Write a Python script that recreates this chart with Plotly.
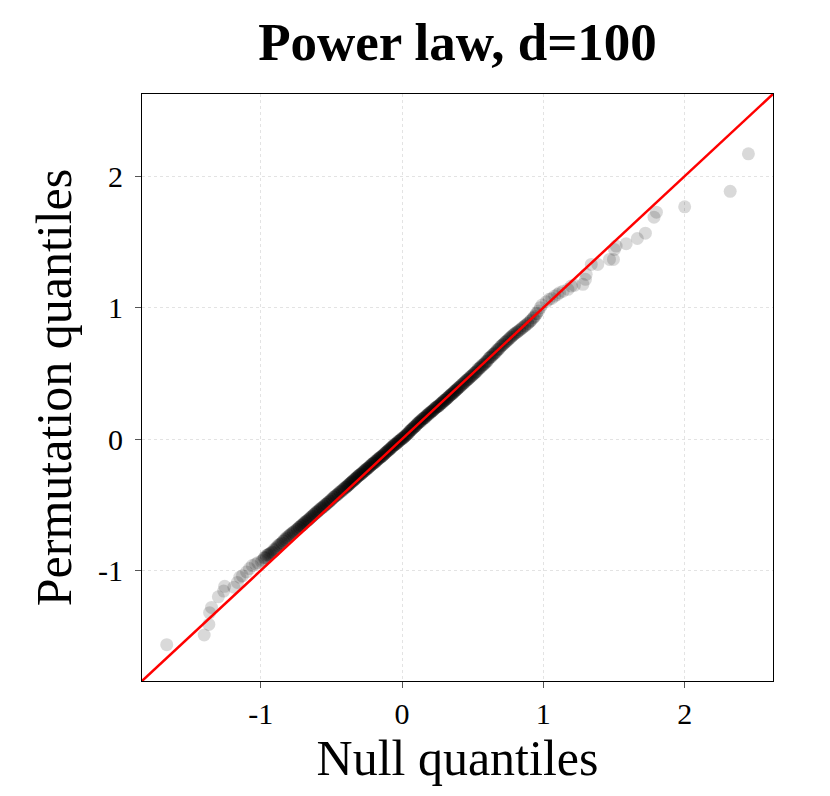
import plotly.graph_objects as go

# ---- data (null quantile, permutation quantile) ----
null_low = [-1.665, -1.40, -1.367, -1.362, -1.348, -1.30, -1.262, -1.255, -1.19, -1.165,
            -1.148, -1.13, -1.10, -1.08, -1.06, -1.037, -1.02]
perm_low = [-1.564, -1.49, -1.41, -1.32, -1.28, -1.20, -1.156, -1.12, -1.126, -1.09,
            -1.05, -1.04, -1.01, -0.985, -0.962, -0.95, -0.94]

null_a = [-0.995, -0.985, -0.972, -0.96, -0.95, -0.94, -0.928, -0.915, -0.905, -0.895,
          -0.884, -0.872, -0.86, -0.85, -0.84, -0.83, -0.82, -0.81, -0.80, -0.79,
          -0.78, -0.77, -0.76]
perm_a = [-0.93, -0.92, -0.90, -0.886, -0.88, -0.875, -0.866, -0.86, -0.85, -0.84,
          -0.822, -0.81, -0.80, -0.79, -0.775, -0.762, -0.752, -0.742, -0.734, -0.725,
          -0.716, -0.708, -0.70]

null_b = [-0.745, -0.739, -0.730, -0.725, -0.716, -0.711, -0.702, -0.697, -0.690, -0.681,
          -0.676, -0.667, -0.662, -0.653, -0.648, -0.639, -0.634, -0.625, -0.620, -0.611,
          -0.606, -0.597, -0.592, -0.583, -0.578, -0.569, -0.564, -0.555, -0.550, -0.541,
          -0.536, -0.527, -0.522, -0.513, -0.508, -0.499, -0.494, -0.485, -0.480, -0.471,
          -0.466, -0.457, -0.452, -0.443, -0.438, -0.429, -0.424, -0.415, -0.410, -0.401]
perm_b = [-0.690, -0.684, -0.675, -0.670, -0.661, -0.656, -0.647, -0.642, -0.635, -0.626,
          -0.626, -0.617, -0.612, -0.603, -0.598, -0.589, -0.584, -0.575, -0.570, -0.561,
          -0.561, -0.552, -0.547, -0.538, -0.533, -0.524, -0.519, -0.510, -0.505, -0.496,
          -0.496, -0.487, -0.482, -0.473, -0.468, -0.459, -0.454, -0.445, -0.440, -0.431,
          -0.431, -0.422, -0.417, -0.408, -0.403, -0.394, -0.389, -0.380, -0.375, -0.366]

null_c = [-0.396, -0.392, -0.386, -0.382, -0.376, -0.372, -0.366, -0.362, -0.356, -0.352,
          -0.346, -0.342, -0.336, -0.332, -0.326, -0.322, -0.316, -0.312, -0.306, -0.302,
          -0.296, -0.292, -0.286, -0.282, -0.276, -0.272, -0.266, -0.262, -0.256, -0.252,
          -0.246, -0.242, -0.236, -0.232, -0.226, -0.222, -0.216, -0.212, -0.206, -0.202,
          -0.196, -0.192, -0.186, -0.182, -0.176, -0.172, -0.166, -0.162, -0.156, -0.152,
          -0.146, -0.142, -0.136, -0.132, -0.126, -0.122, -0.116, -0.112, -0.106, -0.102,
          -0.096, -0.092, -0.086, -0.082, -0.076, -0.072, -0.066, -0.062, -0.056, -0.052,
          -0.046, -0.042, -0.036, -0.032, -0.026, -0.022, -0.016, -0.012, -0.006, -0.002,
          0.004, 0.008, 0.014, 0.018, 0.024, 0.028, 0.034, 0.038, 0.044, 0.048,
          0.054, 0.058, 0.064, 0.068, 0.074, 0.078, 0.084, 0.088, 0.094, 0.098,
          0.104, 0.108, 0.114, 0.118, 0.124, 0.128, 0.134, 0.138, 0.144, 0.148,
          0.154, 0.158, 0.164, 0.168, 0.174, 0.178, 0.184, 0.188, 0.194, 0.198,
          0.204, 0.208, 0.214, 0.218, 0.224, 0.228, 0.234, 0.238, 0.244, 0.248,
          0.254, 0.258, 0.264, 0.268, 0.274, 0.278, 0.284, 0.288, 0.294, 0.298,
          0.304, 0.308, 0.314, 0.318, 0.324, 0.328, 0.334, 0.338, 0.344, 0.348,
          0.354, 0.358, 0.364, 0.368, 0.374, 0.378, 0.384, 0.388, 0.394, 0.398]
perm_c = [-0.366, -0.362, -0.356, -0.352, -0.346, -0.342, -0.336, -0.332, -0.326, -0.322,
          -0.318, -0.314, -0.308, -0.304, -0.298, -0.294, -0.288, -0.284, -0.278, -0.274,
          -0.271, -0.267, -0.261, -0.257, -0.251, -0.247, -0.241, -0.237, -0.231, -0.227,
          -0.226, -0.222, -0.216, -0.212, -0.206, -0.202, -0.196, -0.192, -0.186, -0.182,
          -0.181, -0.177, -0.171, -0.167, -0.161, -0.157, -0.151, -0.147, -0.141, -0.137,
          -0.134, -0.130, -0.124, -0.120, -0.114, -0.110, -0.104, -0.100, -0.094, -0.090,
          -0.086, -0.082, -0.076, -0.072, -0.066, -0.062, -0.056, -0.052, -0.046, -0.042,
          -0.041, -0.037, -0.031, -0.027, -0.021, -0.017, -0.011, -0.007, -0.001, 0.003,
          0.004, 0.008, 0.014, 0.018, 0.024, 0.028, 0.034, 0.038, 0.044, 0.048,
          0.059, 0.063, 0.069, 0.073, 0.079, 0.083, 0.089, 0.093, 0.099, 0.103,
          0.112, 0.116, 0.122, 0.126, 0.132, 0.136, 0.142, 0.146, 0.152, 0.156,
          0.159, 0.163, 0.169, 0.173, 0.179, 0.183, 0.189, 0.193, 0.199, 0.203,
          0.204, 0.208, 0.214, 0.218, 0.224, 0.228, 0.234, 0.238, 0.244, 0.248,
          0.249, 0.253, 0.259, 0.263, 0.269, 0.273, 0.279, 0.283, 0.289, 0.293,
          0.296, 0.300, 0.306, 0.310, 0.316, 0.320, 0.326, 0.330, 0.336, 0.340,
          0.344, 0.348, 0.354, 0.358, 0.364, 0.368, 0.374, 0.378, 0.384, 0.388]

null_d = [0.405, 0.411, 0.418, 0.424, 0.431, 0.437, 0.444, 0.450, 0.457, 0.463,
          0.470, 0.477, 0.484, 0.490, 0.497, 0.504, 0.511, 0.518, 0.525, 0.532,
          0.539, 0.546, 0.553, 0.561, 0.568, 0.575, 0.583, 0.590, 0.598, 0.605,
          0.613, 0.621, 0.629, 0.637, 0.645, 0.653, 0.661, 0.669, 0.678, 0.686,
          0.695, 0.704, 0.713, 0.722, 0.731, 0.740, 0.750, 0.760, 0.770, 0.780,
          0.790, 0.800]
perm_d = [0.395, 0.401, 0.408, 0.414, 0.421, 0.427, 0.434, 0.440, 0.447, 0.453,
          0.458, 0.465, 0.472, 0.478, 0.485, 0.492, 0.499, 0.506, 0.513, 0.520,
          0.529, 0.536, 0.543, 0.551, 0.558, 0.565, 0.573, 0.580, 0.588, 0.595,
          0.613, 0.621, 0.629, 0.637, 0.645, 0.653, 0.661, 0.669, 0.678, 0.686,
          0.700, 0.709, 0.718, 0.727, 0.736, 0.745, 0.755, 0.765, 0.775, 0.785,
          0.795, 0.805]

null_e = [0.812, 0.822, 0.834, 0.845, 0.856, 0.868, 0.879, 0.891, 0.903, 0.915,
          0.928, 0.94, 0.953, 0.966, 0.978, 0.99]
perm_e = [0.812, 0.82, 0.83, 0.84, 0.85, 0.86, 0.87, 0.88, 0.892, 0.905,
          0.92, 0.935, 0.955, 0.975, 1.0, 1.02]

# further points inside the dense band (read as overlapping circles)
null_f = [-0.975, -0.962, -0.948, -0.934, -0.921, -0.907, -0.893, -0.879, -0.866, -0.852,
          -0.838, -0.824, -0.810, -0.797, -0.783, -0.769, -0.755, -0.742, -0.728, -0.714,
          -0.700, -0.687, -0.673, -0.659, -0.645, -0.632, -0.618, -0.604, -0.590, -0.577,
          -0.563, -0.549, -0.535, -0.522, -0.508, -0.494, -0.480, -0.467, -0.453, -0.439,
          -0.425, -0.412, -0.398, -0.384, -0.370, -0.357, -0.343, -0.329, -0.315, -0.302,
          -0.288, -0.274, -0.260, -0.247, -0.233, -0.219, -0.205, -0.192, -0.178, -0.164,
          -0.150, -0.137, -0.123, -0.109, -0.095, -0.082, -0.068, -0.054, -0.040, -0.027,
          -0.013, 0.001, 0.015, 0.028, 0.042, 0.056, 0.070, 0.083, 0.097, 0.111,
          0.125, 0.138, 0.152, 0.166, 0.180, 0.193, 0.207, 0.221, 0.235, 0.248,
          0.262, 0.276, 0.290, 0.303, 0.317, 0.331, 0.345, 0.358, 0.372, 0.386,
          0.400, 0.413, 0.427, 0.441, 0.455, 0.468, 0.482, 0.496, 0.510, 0.523,
          0.537, 0.551, 0.565, 0.578, 0.592, 0.606, 0.620, 0.633, 0.647, 0.661,
          0.675, 0.688, 0.702, 0.716, 0.730, 0.743, 0.757, 0.771, 0.785, 0.798,
          0.815, 0.832, 0.85, 0.87, 0.89, 0.91, 0.93, 0.95]
perm_f = [-0.905, -0.90, -0.88, -0.87, -0.86, -0.84, -0.83, -0.81, -0.80, -0.79,
          -0.775, -0.765, -0.752, -0.735, -0.722, -0.71, -0.697, -0.685, -0.67, -0.66,
          -0.652, -0.636, -0.622, -0.61, -0.595, -0.584, -0.57, -0.552, -0.542, -0.527,
          -0.522, -0.51, -0.494, -0.48, -0.47, -0.455, -0.44, -0.428, -0.415, -0.40,
          -0.395, -0.382, -0.37, -0.352, -0.34, -0.328, -0.312, -0.30, -0.286, -0.274,
          -0.265, -0.252, -0.24, -0.224, -0.212, -0.196, -0.185, -0.17, -0.158, -0.145,
          -0.137, -0.126, -0.11, -0.098, -0.082, -0.071, -0.056, -0.042, -0.03, -0.016,
          -0.008, 0.008, 0.018, 0.034, 0.046, 0.062, 0.074, 0.09, 0.10, 0.118,
          0.128, 0.136, 0.155, 0.164, 0.182, 0.19, 0.209, 0.218, 0.237, 0.245,
          0.252, 0.27, 0.28, 0.297, 0.308, 0.322, 0.338, 0.348, 0.365, 0.376,
          0.392, 0.401, 0.418, 0.43, 0.446, 0.456, 0.474, 0.484, 0.50, 0.512,
          0.535, 0.544, 0.562, 0.57, 0.59, 0.60, 0.618, 0.626, 0.645, 0.655,
          0.682, 0.69, 0.71, 0.72, 0.737, 0.748, 0.764, 0.775, 0.79, 0.802,
          0.815, 0.83, 0.845, 0.862, 0.88, 0.90, 0.925, 0.955]

null_high = [1.021, 1.04, 1.06, 1.08, 1.10, 1.115, 1.14, 1.174, 1.198, 1.22,
             1.28, 1.298, 1.303, 1.339, 1.385, 1.468, 1.496, 1.503, 1.515, 1.586,
             1.665, 1.722, 1.783, 1.80, 2.0, 2.322, 2.451]
perm_high = [1.045, 1.063, 1.07, 1.088, 1.10, 1.114, 1.125, 1.139, 1.164, 1.17,
             1.177, 1.215, 1.253, 1.329, 1.329, 1.367, 1.367, 1.443, 1.468, 1.486,
             1.526, 1.566, 1.688, 1.726, 1.767, 1.885, 2.17]

tick_vals = [-1, 0, 1, 2]
tick_text = ["-1", "0", "1", "2"]
axis_range = [-1.84, 2.625]

null_q = null_low + null_a + null_b + null_c + null_d + null_e + null_f + null_high
perm_q = perm_low + perm_a + perm_b + perm_c + perm_d + perm_e + perm_f + perm_high
n = min(len(null_q), len(perm_q))
null_q, perm_q = null_q[:n], perm_q[:n]

FONT = "Liberation Serif"

fig = go.Figure()
fig.add_trace(go.Scatter(
    x=null_q, y=perm_q, mode="markers",
    marker=dict(size=13, color="rgba(0,0,0,0.15)", line=dict(width=0)),
    showlegend=False, hoverinfo="skip"))
fig.add_trace(go.Scatter(
    x=axis_range, y=axis_range, mode="lines",
    line=dict(color="#ff0000", width=2.5), showlegend=False, hoverinfo="skip"))

axis_common = dict(
    range=axis_range, tickvals=tick_vals, ticktext=tick_text,
    showgrid=True, gridcolor="#e3e3e3", griddash="dot", gridwidth=1,
    zeroline=False, showline=True, linecolor="black", linewidth=1.2, mirror=True,
    ticks="outside", ticklen=6, tickcolor="#555555", tickwidth=1,
    tickfont=dict(family=FONT, size=30, color="black"),
)

fig.update_layout(
    width=830, height=796,
    margin=dict(l=134, r=65, t=86, b=123),
    paper_bgcolor="white", plot_bgcolor="white",
    title=dict(text="<b>Power law, d=100</b>", x=0.5, xref="paper",
               y=0.958, yref="container", yanchor="middle", xanchor="center",
               font=dict(family=FONT, size=53, color="black")),
    xaxis=dict(**axis_common,
               title=dict(text="Null quantiles", standoff=8,
                          font=dict(family=FONT, size=50, color="black"))),
    yaxis=dict(**axis_common, ticklabelstandoff=6,
               title=dict(text="Permutation quantiles", standoff=10,
                          font=dict(family=FONT, size=50, color="black"))),
)

fig.write_html("out.html")
